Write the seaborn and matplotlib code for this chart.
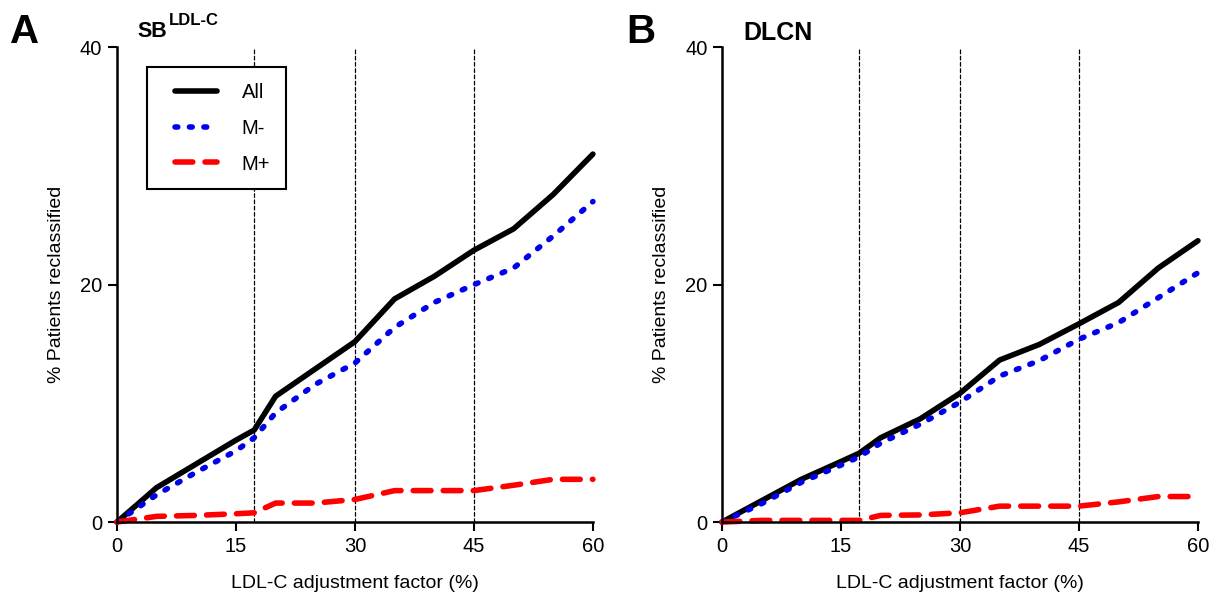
import matplotlib
matplotlib.use("Agg")
import matplotlib.pyplot as plt
import pandas as pd
import seaborn as sns
from matplotlib.lines import Line2D
from matplotlib.legend_handler import HandlerLine2D

# Adjustment factors (%) and % patients reclassified
factor = [0, 5, 10, 15, 17.3, 20, 25, 30, 35, 40, 45, 50, 55, 60]

sb_all = [0, 2.9, 4.9, 6.9, 7.75, 10.6, 12.9, 15.2, 18.8, 20.7, 22.9, 24.7, 27.6, 31.0]
sb_mneg = [0, 2.3, 4.2, 6.0, 7.1, 9.2, 11.6, 13.4, 16.4, 18.5, 20.0, 21.4, 24.1, 27.0]
sb_mpos = [0, 0.48, 0.56, 0.7, 0.78, 1.6, 1.6, 1.9, 2.65, 2.65, 2.65, 3.1, 3.6, 3.6]

dlcn_all = [0, 1.8, 3.6, 5.1, 5.8, 7.1, 8.7, 10.85, 13.65, 14.96, 16.7, 18.5, 21.4, 23.7]
dlcn_mneg = [0, 1.55, 3.35, 4.8, 5.5, 6.65, 8.25, 10.1, 12.3, 13.6, 15.4, 16.8, 18.9, 21.0]
dlcn_mpos = [0, 0.14, 0.14, 0.14, 0.14, 0.56, 0.6, 0.78, 1.34, 1.34, 1.34, 1.7, 2.15, 2.15]

cutoffs = [17.3, 30, 45]
xticks = [0, 15, 30, 45, 60]
yticks = [0, 20, 40]

sns.set_style("ticks")
plt.rcParams['font.family'] = ['Liberation Sans', 'DejaVu Sans']
plt.rcParams.update({'text.color': 'black', 'axes.labelcolor': 'black',
                     'xtick.color': 'black', 'ytick.color': 'black',
                     'axes.edgecolor': 'black'})

styles = {
    'All': dict(color='black', linestyle='-'),
    'M-': dict(color='#0000ee', linestyle=(0, (0.5, 2.1))),
    'M+': dict(color='#ff0000', linestyle=(0, (3.2, 2.2))),
}

fig = plt.figure(figsize=(12.12, 5.98), dpi=100)
ax_a = fig.add_axes([0.0965, 0.127, 0.3927, 0.794])
ax_b = fig.add_axes([0.5957, 0.127, 0.3927, 0.794])


def draw_panel(ax, series):
    for c in cutoffs:
        ax.axvline(c, color='black', lw=0.9, ls=(0, (3, 2)), zorder=1)
    for name, vals in series.items():
        df = pd.DataFrame({'factor': factor, 'pct': vals})
        sns.lineplot(data=df, x='factor', y='pct', ax=ax, label=name,
                     lw=4.0, **styles[name])
    for ln in ax.get_lines():
        ln.set_dash_capstyle('round')
        ln.set_solid_capstyle('round')
        ln.set_clip_on(False)
    ax.set_xlim(0, 60)
    ax.set_ylim(0, 40)
    ax.set_xticks(xticks)
    ax.set_yticks(yticks)
    ax.tick_params(labelsize=14.5, length=6.5, width=1.5, direction='out', pad=4)
    for s in ['left', 'bottom']:
        ax.spines[s].set_linewidth(1.8)
    sns.despine(ax=ax)
    ax.set_xlabel('LDL-C adjustment factor (%)', fontsize=14, labelpad=14)
    ax.set_ylabel('% Patients reclassified', fontsize=14, labelpad=11)


draw_panel(ax_a, {'All': sb_all, 'M-': sb_mneg, 'M+': sb_mpos})
draw_panel(ax_b, {'All': dlcn_all, 'M-': dlcn_mneg, 'M+': dlcn_mpos})

leg = ax_a.legend(loc='upper left', bbox_to_anchor=(0.063, 0.958), borderaxespad=0,
                  fontsize=14.5, fancybox=False, framealpha=1, edgecolor='black',
                  handlelength=2.71, handletextpad=1.23, labelspacing=0.84,
                  borderpad=0.77,
                  handler_map={Line2D: HandlerLine2D(xpad=0.62)})
leg.get_frame().set_linewidth(1.5)
for h in leg.get_lines():
    h.set_dash_capstyle('round')
    h.set_solid_capstyle('round')
ax_b.get_legend().remove()

# panel titles
ax_a.text(0.044, 1.021, 'SB', transform=ax_a.transAxes, fontsize=15.5,
          fontweight='bold', va='baseline', ha='left')
ax_a.text(0.109, 1.046, 'LDL-C', transform=ax_a.transAxes, fontsize=12,
          fontweight='bold', va='baseline', ha='left')
ax_b.text(0.044, 1.0147, 'DLCN', transform=ax_b.transAxes, fontsize=18,
          fontweight='bold', va='baseline', ha='left')

fig.text(0.008, 0.928, 'A', fontsize=29, fontweight='bold', va='baseline')
fig.text(0.517, 0.928, 'B', fontsize=29, fontweight='bold', va='baseline')

fig.savefig('out.png', dpi=100)
